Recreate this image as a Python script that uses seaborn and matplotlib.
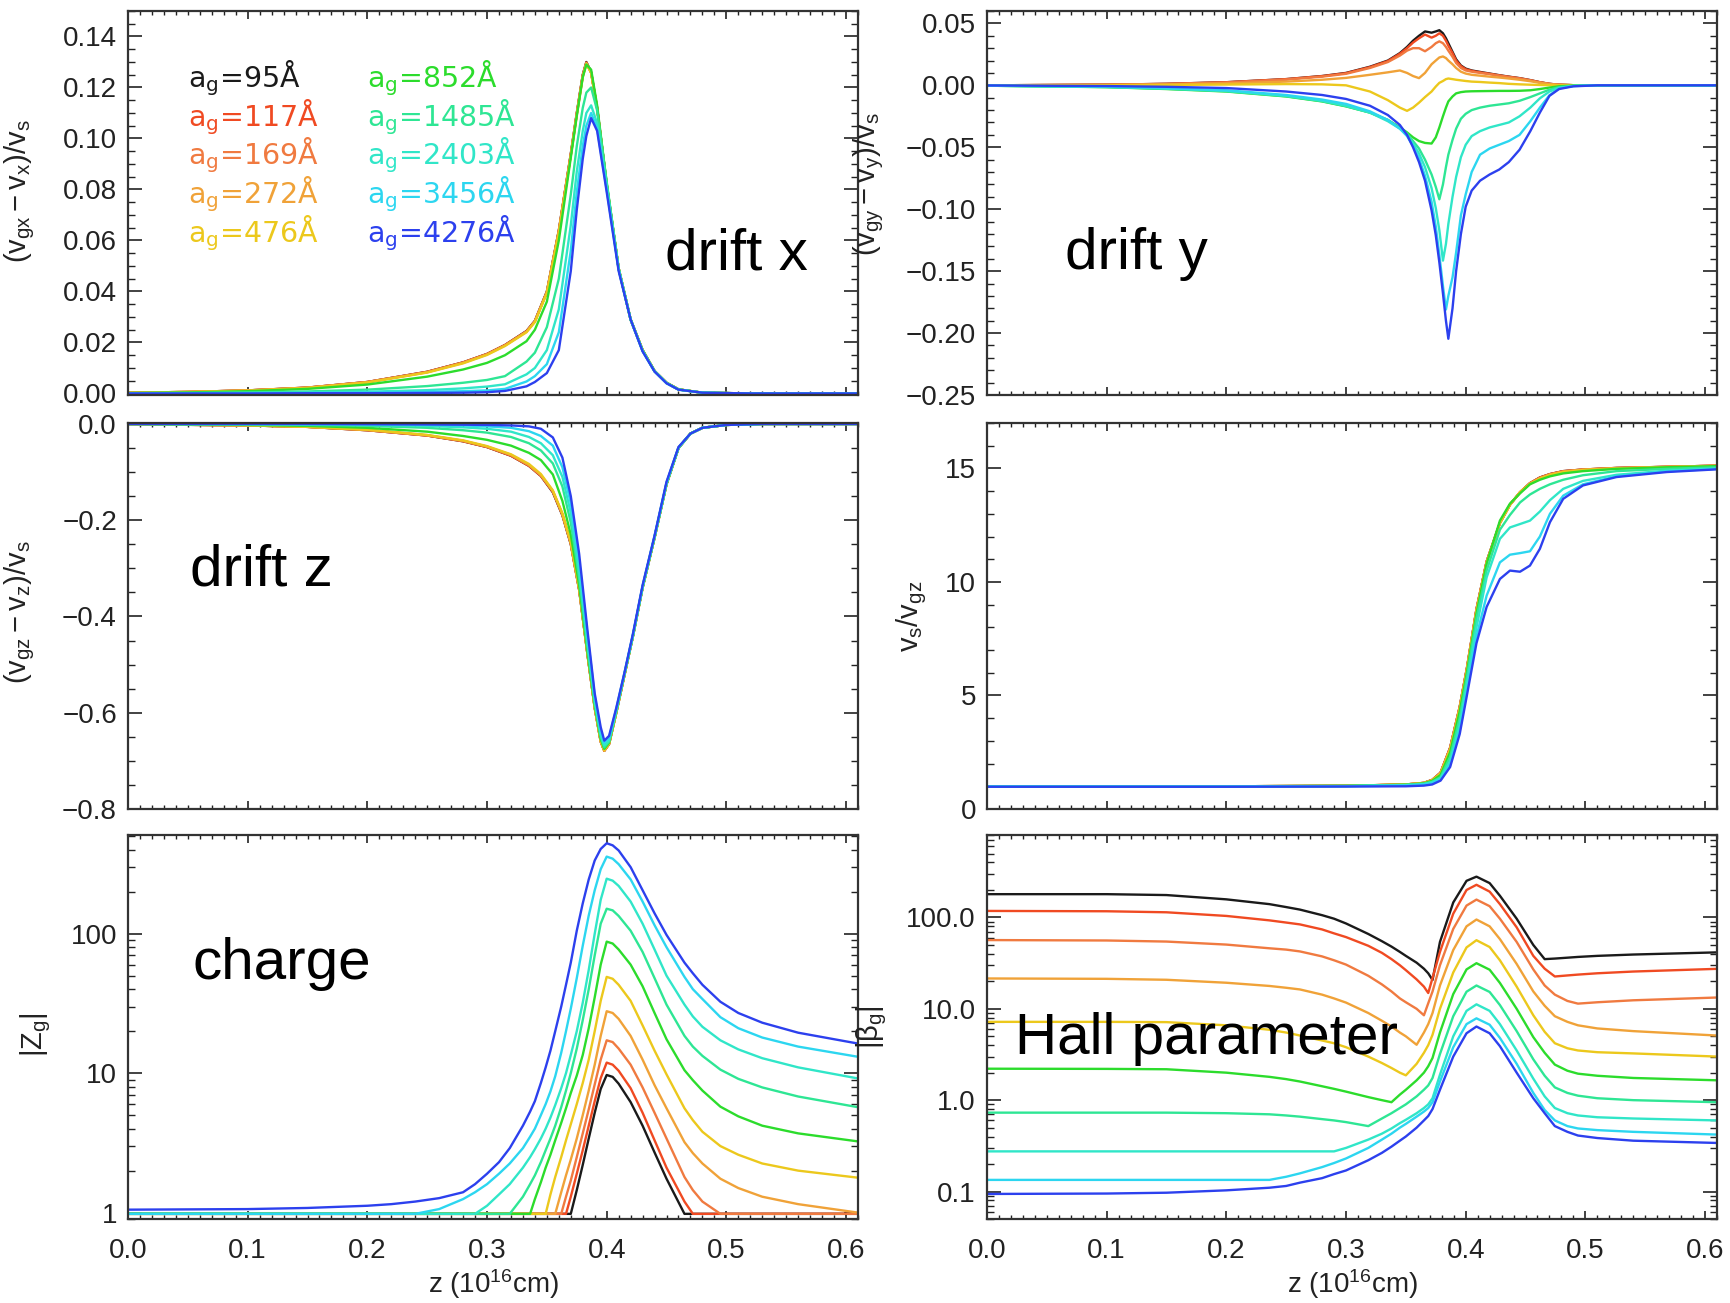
import matplotlib
matplotlib.use("Agg")
import matplotlib.pyplot as plt
import numpy as np
import pandas as pd
import seaborn as sns
from matplotlib.ticker import MultipleLocator, FixedLocator, FuncFormatter, LogLocator, NullFormatter, FixedFormatter

# ---------------- data ----------------
SIZES = ["95", "117", "169", "272", "476", "852", "1485", "2403", "3456", "4276"]
COLORS = ["#1a1a1a", "#f04a22", "#f07a40", "#f0a238", "#ecc81c",
          "#2cdc2c", "#2ee694", "#30e6c8", "#2cd6f0", "#2c40ee"]

# drift x
Z_X = [0.0, 0.05, 0.10, 0.15, 0.20, 0.25, 0.28, 0.30, 0.315, 0.333, 0.34, 0.35, 0.36, 0.37, 0.375,
       0.38, 0.383, 0.387, 0.392, 0.40, 0.41, 0.42, 0.43, 0.44, 0.45, 0.46, 0.48, 0.52, 0.61]
DX_95 = [0.0003, 0.0006, 0.0012, 0.0023, 0.0045, 0.0085, 0.0122, 0.0155, 0.0190, 0.0245, 0.0285, 0.0400, 0.0640, 0.0940, 0.1100, 0.1250, 0.1300, 0.1260, 0.1120, 0.0820, 0.0490, 0.0290, 0.0170, 0.0088, 0.0042, 0.0016, 0.0003, 0.0, 0.0]
DX_117 = [0.0003, 0.0006, 0.0012, 0.0023, 0.0045, 0.0085, 0.0122, 0.0155, 0.0190, 0.0244, 0.0284, 0.0398, 0.0638, 0.0938, 0.1098, 0.1248, 0.1298, 0.1259, 0.1120, 0.0820, 0.0490, 0.0290, 0.0170, 0.0088, 0.0042, 0.0016, 0.0003, 0.0, 0.0]
DX_169 = [0.0003, 0.0006, 0.0012, 0.0023, 0.0045, 0.0084, 0.0121, 0.0154, 0.0189, 0.0243, 0.0283, 0.0397, 0.0636, 0.0936, 0.1096, 0.1246, 0.1296, 0.1258, 0.1119, 0.0820, 0.0490, 0.0290, 0.0170, 0.0088, 0.0042, 0.0016, 0.0003, 0.0, 0.0]
DX_272 = [0.0003, 0.0006, 0.0012, 0.0022, 0.0044, 0.0083, 0.0120, 0.0153, 0.0188, 0.0242, 0.0282, 0.0396, 0.0634, 0.0934, 0.1094, 0.1244, 0.1295, 0.1258, 0.1119, 0.0820, 0.0490, 0.0290, 0.0170, 0.0088, 0.0042, 0.0016, 0.0003, 0.0, 0.0]
DX_476 = [0.0003, 0.0006, 0.0011, 0.0022, 0.0043, 0.0082, 0.0118, 0.0151, 0.0186, 0.0240, 0.0280, 0.0394, 0.0632, 0.0932, 0.1092, 0.1242, 0.1293, 0.1258, 0.1119, 0.0820, 0.0490, 0.0290, 0.0170, 0.0088, 0.0042, 0.0016, 0.0003, 0.0, 0.0]
DX_852 = [0.0002, 0.0004, 0.0009, 0.0018, 0.0035, 0.0066, 0.0094, 0.0120, 0.0150, 0.0205, 0.0250, 0.0360, 0.0600, 0.0925, 0.1088, 0.1240, 0.1290, 0.1270, 0.1130, 0.0825, 0.0490, 0.0290, 0.0170, 0.0088, 0.0042, 0.0016, 0.0003, 0.0, 0.0]
DX_1485 = [0.0001, 0.0002, 0.0004, 0.0008, 0.0015, 0.0029, 0.0042, 0.0053, 0.0068, 0.0125, 0.0160, 0.0260, 0.0450, 0.0780, 0.0970, 0.1120, 0.1180, 0.1200, 0.1110, 0.0830, 0.0490, 0.0290, 0.0168, 0.0087, 0.0041, 0.0016, 0.0003, 0.0, 0.0]
DX_2403 = [0.0, 0.0001, 0.0002, 0.0004, 0.0007, 0.0013, 0.0020, 0.0027, 0.0036, 0.0075, 0.0100, 0.0170, 0.0330, 0.0660, 0.0870, 0.1030, 0.1100, 0.1130, 0.1060, 0.0810, 0.0488, 0.0290, 0.0167, 0.0087, 0.0041, 0.0015, 0.0003, 0.0, 0.0]
DX_3456 = [0.0, 0.0, 0.0001, 0.0002, 0.0003, 0.0006, 0.0009, 0.0012, 0.0018, 0.0047, 0.0068, 0.0115, 0.0240, 0.0560, 0.0790, 0.0970, 0.1050, 0.1100, 0.1040, 0.0800, 0.0485, 0.0290, 0.0166, 0.0086, 0.0040, 0.0015, 0.0003, 0.0, 0.0]
DX_4276 = [0.0, 0.0, 0.0, 0.0001, 0.0001, 0.0002, 0.0003, 0.0005, 0.0010, 0.0028, 0.0045, 0.0080, 0.0170, 0.0480, 0.0720, 0.0920, 0.1010, 0.1080, 0.1030, 0.0790, 0.0480, 0.0290, 0.0165, 0.0086, 0.0040, 0.0015, 0.0003, 0.0, 0.0]

# drift y
Z_Y = [0.0, 0.10, 0.15, 0.20, 0.25, 0.28, 0.30, 0.32, 0.335, 0.345, 0.351, 0.356, 0.361, 0.366, 0.3715,
       0.375, 0.378, 0.381, 0.3835, 0.3855, 0.389, 0.392, 0.396, 0.40, 0.405, 0.412, 0.42, 0.428, 0.436,
       0.445, 0.454, 0.462, 0.47, 0.478, 0.49, 0.51, 0.61]
DY_95 = [0.0, 0.0005, 0.0012, 0.0025, 0.0050, 0.0075, 0.0100, 0.0150, 0.0200, 0.0260, 0.0310, 0.0360, 0.0400, 0.0435, 0.0425, 0.0435, 0.0445, 0.0420, 0.0380, 0.0340, 0.0270, 0.0210, 0.0160, 0.0135, 0.0120, 0.0108, 0.0095, 0.0082, 0.0070, 0.0058, 0.0042, 0.0025, 0.0012, 0.0005, 0.0001, 0.0, 0.0]
DY_117 = [0.0, 0.0005, 0.0012, 0.0025, 0.0050, 0.0074, 0.0098, 0.0147, 0.0196, 0.0255, 0.0300, 0.0345, 0.0380, 0.0410, 0.0385, 0.0400, 0.0420, 0.0400, 0.0360, 0.0320, 0.0260, 0.0200, 0.0155, 0.0130, 0.0117, 0.0105, 0.0093, 0.0080, 0.0069, 0.0057, 0.0041, 0.0025, 0.0012, 0.0005, 0.0001, 0.0, 0.0]
DY_169 = [0.0, 0.0005, 0.0011, 0.0023, 0.0047, 0.0070, 0.0093, 0.0140, 0.0188, 0.0240, 0.0280, 0.0300, 0.0300, 0.0275, 0.0310, 0.0340, 0.0355, 0.0340, 0.0310, 0.0280, 0.0230, 0.0180, 0.0140, 0.0120, 0.0110, 0.0100, 0.0090, 0.0078, 0.0067, 0.0055, 0.0040, 0.0024, 0.0011, 0.0004, 0.0001, 0.0, 0.0]
DY_272 = [0.0, 0.0003, 0.0007, 0.0015, 0.0030, 0.0045, 0.0060, 0.0085, 0.0105, 0.0120, 0.0100, 0.0075, 0.0058, 0.0100, 0.0170, 0.0200, 0.0225, 0.0233, 0.0220, 0.0200, 0.0170, 0.0140, 0.0110, 0.0095, 0.0085, 0.0078, 0.0070, 0.0063, 0.0055, 0.0045, 0.0033, 0.0020, 0.0010, 0.0004, 0.0001, 0.0, 0.0]
DY_476 = [0.0, 0.0001, 0.0003, 0.0006, 0.0010, 0.0008, 0.0, -0.0050, -0.0120, -0.0180, -0.0206, -0.0180, -0.0140, -0.0095, -0.0050, -0.0010, 0.0020, 0.0035, 0.0050, 0.0055, 0.0050, 0.0045, 0.0040, 0.0035, 0.0030, 0.0027, 0.0022, 0.0018, 0.0012, 0.0008, 0.0005, 0.0003, 0.0001, 0.0, 0.0, 0.0, 0.0]
DY_852 = [-0.0003, -0.0015, -0.0030, -0.0050, -0.0090, -0.0130, -0.0170, -0.0220, -0.0280, -0.0340, -0.0380, -0.0420, -0.0450, -0.0465, -0.0470, -0.0420, -0.0340, -0.0250, -0.0180, -0.0130, -0.0090, -0.0065, -0.0055, -0.0050, -0.0048, -0.0047, -0.0046, -0.0045, -0.0045, -0.0044, -0.0040, -0.0030, -0.0018, -0.0008, -0.0002, 0.0, 0.0]
DY_1485 = [-0.0003, -0.0014, -0.0028, -0.0048, -0.0088, -0.0128, -0.0168, -0.0220, -0.0280, -0.0345, -0.0390, -0.0450, -0.0510, -0.0600, -0.0720, -0.0820, -0.0920, -0.0800, -0.0660, -0.0560, -0.0440, -0.0350, -0.0270, -0.0230, -0.0200, -0.0180, -0.0165, -0.0155, -0.0145, -0.0125, -0.0095, -0.0065, -0.0035, -0.0015, -0.0004, 0.0, 0.0]
DY_2403 = [-0.0003, -0.0013, -0.0026, -0.0045, -0.0085, -0.0125, -0.0165, -0.0220, -0.0290, -0.0350, -0.0400, -0.0470, -0.0550, -0.0660, -0.0830, -0.0990, -0.1170, -0.1415, -0.1280, -0.1120, -0.0900, -0.0740, -0.0580, -0.0480, -0.0410, -0.0370, -0.0340, -0.0320, -0.0300, -0.0250, -0.0180, -0.0105, -0.0050, -0.0020, -0.0005, 0.0, 0.0]
DY_3456 = [-0.0002, -0.0011, -0.0022, -0.0040, -0.0078, -0.0115, -0.0150, -0.0210, -0.0280, -0.0350, -0.0410, -0.0490, -0.0590, -0.0730, -0.0940, -0.1140, -0.1370, -0.1620, -0.1810, -0.1700, -0.1550, -0.1350, -0.1050, -0.0880, -0.0700, -0.0560, -0.0510, -0.0480, -0.0450, -0.0400, -0.0290, -0.0180, -0.0080, -0.0025, -0.0006, 0.0, 0.0]
DY_4276 = [-0.0001, -0.0006, -0.0012, -0.0022, -0.0050, -0.0078, -0.0110, -0.0165, -0.0240, -0.0320, -0.0400, -0.0500, -0.0620, -0.0770, -0.1010, -0.1210, -0.1430, -0.1680, -0.1900, -0.2046, -0.1800, -0.1500, -0.1200, -0.0980, -0.0850, -0.0770, -0.0720, -0.0680, -0.0620, -0.0520, -0.0370, -0.0220, -0.0085, -0.0030, -0.0008, 0.0, 0.0]

# drift z
Z_Z = [0.0, 0.10, 0.15, 0.20, 0.25, 0.28, 0.30, 0.32, 0.335, 0.345, 0.355, 0.363, 0.37, 0.377, 0.384,
       0.39, 0.395, 0.398, 0.402, 0.408, 0.415, 0.422, 0.43, 0.44, 0.45, 0.46, 0.47, 0.48, 0.50, 0.53, 0.61]
DZ_95 = [-0.0005, -0.003, -0.006, -0.013, -0.024, -0.036, -0.048, -0.066, -0.087, -0.108, -0.142, -0.190, -0.250, -0.345, -0.480, -0.590, -0.660, -0.679, -0.665, -0.600, -0.520, -0.440, -0.340, -0.236, -0.125, -0.050, -0.020, -0.008, -0.002, 0.0, 0.0]
DZ_117 = [-0.0005, -0.003, -0.006, -0.013, -0.024, -0.036, -0.048, -0.066, -0.087, -0.108, -0.141, -0.189, -0.249, -0.344, -0.480, -0.590, -0.660, -0.679, -0.665, -0.600, -0.520, -0.440, -0.340, -0.236, -0.125, -0.050, -0.020, -0.008, -0.002, 0.0, 0.0]
DZ_169 = [-0.0005, -0.003, -0.006, -0.013, -0.024, -0.035, -0.047, -0.065, -0.086, -0.107, -0.140, -0.188, -0.248, -0.344, -0.479, -0.590, -0.660, -0.679, -0.665, -0.600, -0.520, -0.440, -0.340, -0.236, -0.125, -0.050, -0.020, -0.008, -0.002, 0.0, 0.0]
DZ_272 = [-0.0005, -0.003, -0.006, -0.012, -0.023, -0.035, -0.047, -0.064, -0.085, -0.106, -0.139, -0.187, -0.247, -0.343, -0.479, -0.589, -0.659, -0.679, -0.665, -0.600, -0.520, -0.440, -0.340, -0.236, -0.125, -0.050, -0.020, -0.008, -0.002, 0.0, 0.0]
DZ_476 = [-0.0005, -0.003, -0.006, -0.012, -0.023, -0.034, -0.046, -0.063, -0.083, -0.104, -0.138, -0.186, -0.246, -0.342, -0.478, -0.589, -0.659, -0.678, -0.664, -0.600, -0.520, -0.440, -0.340, -0.236, -0.125, -0.050, -0.020, -0.008, -0.002, 0.0, 0.0]
DZ_852 = [0.0, -0.002, -0.004, -0.008, -0.016, -0.025, -0.033, -0.045, -0.060, -0.075, -0.105, -0.160, -0.230, -0.335, -0.475, -0.585, -0.655, -0.675, -0.662, -0.598, -0.519, -0.440, -0.340, -0.236, -0.125, -0.050, -0.020, -0.008, -0.002, 0.0, 0.0]
DZ_1485 = [0.0, -0.001, -0.002, -0.004, -0.008, -0.013, -0.018, -0.027, -0.040, -0.055, -0.082, -0.130, -0.205, -0.320, -0.465, -0.580, -0.650, -0.672, -0.660, -0.597, -0.518, -0.439, -0.339, -0.235, -0.124, -0.050, -0.020, -0.008, -0.002, 0.0, 0.0]
DZ_2403 = [0.0, -0.0005, -0.001, -0.002, -0.004, -0.007, -0.010, -0.016, -0.027, -0.040, -0.065, -0.110, -0.185, -0.305, -0.455, -0.575, -0.645, -0.668, -0.657, -0.595, -0.517, -0.438, -0.338, -0.234, -0.123, -0.049, -0.020, -0.008, -0.002, 0.0, 0.0]
DZ_3456 = [0.0, 0.0, -0.0005, -0.001, -0.002, -0.003, -0.005, -0.008, -0.015, -0.025, -0.045, -0.090, -0.165, -0.285, -0.440, -0.565, -0.638, -0.662, -0.652, -0.592, -0.516, -0.437, -0.337, -0.233, -0.122, -0.049, -0.020, -0.008, -0.002, 0.0, 0.0]
DZ_4276 = [0.0, 0.0, 0.0, -0.0005, -0.001, -0.0015, -0.002, -0.003, -0.005, -0.010, -0.028, -0.070, -0.150, -0.270, -0.430, -0.560, -0.630, -0.658, -0.648, -0.590, -0.515, -0.435, -0.335, -0.232, -0.120, -0.048, -0.020, -0.008, -0.002, 0.0, 0.0]

# v_s / v_gz
Z_V = [0.0, 0.20, 0.30, 0.35, 0.365, 0.372, 0.379, 0.387, 0.395, 0.401, 0.409, 0.4175, 0.4286, 0.437,
       0.4454, 0.4537, 0.462, 0.4704, 0.4815, 0.498, 0.526, 0.568, 0.61]
VR_95 = [1.0, 1.0, 1.02, 1.08, 1.15, 1.28, 1.60, 2.70, 4.50, 6.20, 8.80, 10.90, 12.60, 13.40, 13.95, 14.35, 14.60, 14.75, 14.88, 14.95, 15.02, 15.07, 15.12]
VR_117 = [1.0, 1.0, 1.02, 1.08, 1.15, 1.28, 1.60, 2.70, 4.50, 6.20, 8.80, 10.90, 12.60, 13.40, 13.95, 14.35, 14.60, 14.75, 14.88, 14.95, 15.02, 15.07, 15.12]
VR_169 = [1.0, 1.0, 1.02, 1.08, 1.15, 1.28, 1.59, 2.68, 4.48, 6.18, 8.78, 10.88, 12.60, 13.40, 13.95, 14.35, 14.58, 14.74, 14.87, 14.95, 15.02, 15.07, 15.12]
VR_272 = [1.0, 1.0, 1.02, 1.08, 1.15, 1.27, 1.58, 2.66, 4.46, 6.16, 8.76, 10.87, 12.60, 13.40, 13.95, 14.33, 14.57, 14.73, 14.86, 14.94, 15.01, 15.07, 15.12]
VR_476 = [1.0, 1.0, 1.02, 1.08, 1.14, 1.26, 1.56, 2.62, 4.42, 6.12, 8.72, 10.85, 12.60, 13.40, 13.95, 14.32, 14.55, 14.71, 14.84, 14.93, 15.00, 15.06, 15.11]
VR_852 = [1.0, 1.0, 1.02, 1.07, 1.13, 1.24, 1.50, 2.50, 4.30, 6.00, 8.60, 10.80, 12.70, 13.45, 13.90, 14.30, 14.50, 14.65, 14.78, 14.88, 14.98, 15.05, 15.10]
VR_1485 = [1.0, 1.0, 1.01, 1.06, 1.11, 1.20, 1.40, 2.30, 4.00, 5.80, 8.40, 10.50, 12.30, 12.95, 13.50, 13.85, 14.10, 14.30, 14.50, 14.70, 14.88, 14.98, 15.05]
VR_2403 = [1.0, 1.0, 1.01, 1.05, 1.10, 1.18, 1.35, 2.10, 3.70, 5.50, 8.00, 10.20, 11.90, 12.40, 12.55, 12.70, 13.10, 13.60, 14.10, 14.45, 14.72, 14.90, 15.00]
VR_3456 = [0.99, 0.99, 1.0, 1.03, 1.07, 1.13, 1.30, 1.95, 3.45, 5.20, 7.60, 9.40, 10.86, 11.20, 11.27, 11.35, 12.00, 13.00, 13.80, 14.30, 14.65, 14.87, 14.98]
VR_4276 = [0.98, 0.98, 0.99, 1.0, 1.03, 1.08, 1.25, 1.85, 3.30, 5.00, 7.30, 8.90, 10.13, 10.50, 10.45, 10.72, 11.46, 12.63, 13.66, 14.25, 14.62, 14.84, 14.96]

# charge |Z_g|
Z_Q = [0.0, 0.10, 0.15, 0.20, 0.22, 0.24, 0.26, 0.28, 0.29, 0.30, 0.31, 0.319, 0.33, 0.336, 0.34, 0.345,
       0.349, 0.353, 0.357, 0.362, 0.366, 0.37, 0.375, 0.38, 0.385, 0.39, 0.395, 0.40, 0.405, 0.41, 0.42,
       0.43, 0.44, 0.45, 0.465, 0.472, 0.48, 0.495, 0.51, 0.53, 0.56, 0.61]
Q_95 = [0.98] * 22 + [1.45, 2.2, 3.4, 5.2, 7.7, 9.7, 9.4, 8.4, 6.2, 4.2, 2.7, 1.75, 0.98, 0.98, 0.98, 0.98, 0.98, 0.98, 0.98, 0.98]
Q_117 = [0.98] * 21 + [1.3, 1.9, 2.8, 4.2, 6.3, 9.2, 11.9, 11.5, 10.4, 7.8, 5.2, 3.3, 2.1, 1.2, 0.98, 0.98, 0.98, 0.98, 0.98, 0.98, 0.98]
Q_169 = [0.98] * 20 + [1.3, 1.7, 2.5, 3.7, 5.5, 8.3, 12.5, 17.2, 16.7, 15.0, 11.5, 7.9, 5.2, 3.4, 1.8, 1.45, 1.2, 0.98, 0.98, 0.98, 0.98, 0.98]
Q_272 = [0.98] * 19 + [1.4, 1.85, 2.4, 3.4, 5.0, 7.5, 11.5, 18.5, 27.8, 27.0, 24.5, 18.5, 12.5, 8.2, 5.6, 3.2, 2.67, 2.25, 1.75, 1.5, 1.3, 1.15, 1.0]
Q_476 = [0.98] * 17 + [1.35, 1.8, 2.5, 3.3, 4.3, 6.0, 8.5, 12.5, 20.0, 33.0, 49.0, 47.5, 43.0, 33.0, 22.0, 14.5, 9.8, 5.6, 4.6, 3.8, 3.0, 2.6, 2.25, 2.0, 1.78]
Q_852 = [0.98] * 14 + [1.25, 1.65, 2.1, 2.6, 3.3, 4.4, 5.6, 7.2, 9.6, 13.5, 21.0, 35.0, 60.0, 87.7, 85.0, 77.0, 60.0, 42.0, 27.0, 17.5, 10.5, 8.9, 7.5, 5.75, 4.9, 4.2, 3.7, 3.24]
Q_1485 = [0.98] * 12 + [1.3, 1.6, 1.85, 2.3, 2.8, 3.4, 4.2, 5.7, 7.5, 10.0, 15.0, 24.0, 40.0, 70.0, 118.0, 151.0, 147.0, 134.0, 105.0, 74.0, 48.0, 31.0, 18.5, 15.5, 13.3, 10.6, 9.1, 7.9, 6.8, 5.7]
Q_2403 = [0.98] * 9 + [1.12, 1.35, 1.6, 2.1, 2.5, 2.85, 3.4, 4.0, 4.8, 5.9, 7.8, 10.0, 13.5, 20.0, 32.0, 55.0, 100.0, 175.0, 248.0, 240.0, 220.0, 170.0, 118.0, 77.0, 50.0, 31.0, 25.5, 21.5, 17.2, 14.8, 12.8, 11.0, 9.16]
Q_3456 = [0.98] * 6 + [1.06, 1.25, 1.4, 1.6, 1.9, 2.25, 2.9, 3.5, 4.0, 5.0, 6.0, 7.4, 9.5, 14.0, 20.0, 29.0, 48.0, 82.0, 135.0, 205.0, 290.0, 357.0, 345.0, 315.0, 245.0, 170.0, 115.0, 80.0, 49.0, 40.0, 34.0, 25.2, 21.0, 18.0, 15.5, 13.1]
Q_4276 = [1.05, 1.06, 1.08, 1.12, 1.15, 1.2, 1.27, 1.4, 1.6, 1.9, 2.3, 2.9, 4.2, 5.3, 6.3, 8.5, 11.0, 14.5, 20.0, 30.0, 43.0, 62.0, 105.0, 165.0, 245.0, 335.0, 405.0, 445.0, 430.0, 395.0, 300.0, 205.0, 140.0, 98.0, 62.0, 52.0, 43.0, 32.5, 27.0, 23.0, 19.5, 16.3]

# Hall parameter |beta_g|
Z_H = [0.0, 0.10, 0.15, 0.20, 0.236, 0.25, 0.2615, 0.28, 0.29, 0.30, 0.3186, 0.33, 0.338, 0.345, 0.35,
       0.359, 0.3651, 0.3687, 0.3723, 0.3785, 0.3896, 0.4007, 0.409, 0.42, 0.4286, 0.4426, 0.4565, 0.466,
       0.4745, 0.485, 0.4938, 0.51, 0.54, 0.61]
H_95 = [180, 180, 176, 158, 140, 130, 122, 106, 97, 86, 66, 55, 48, 42, 38, 32, 27.5, 24.5, 20.7, 54, 146, 252, 280, 238, 173, 97, 50, 35, 35.5, 36.3, 37, 38, 39.3, 41.5]
H_117 = [118, 117, 114, 104, 93, 88, 84, 74, 67, 61, 49, 41, 35, 30, 26.5, 21, 17.5, 14.9, 21.8, 42, 110, 200, 228, 192, 140, 78, 38, 27.5, 22.6, 23.2, 23.7, 24.5, 25.6, 27.4]
H_169 = [56.6, 56, 54.5, 50.5, 46, 44.5, 42.5, 37.5, 34, 30.5, 23, 18.5, 15.5, 13, 11.8, 10, 8.5, 11.5, 15.5, 30, 75, 135, 157, 133, 97, 54, 27, 18, 14.3, 12.2, 11.4, 11.8, 12.4, 13.3]
H_272 = [21.5, 21.3, 20.8, 19.3, 17.8, 17.0, 16.3, 14.3, 13.0, 11.7, 9.0, 7.4, 6.4, 5.5, 5.0, 4.04, 5.5, 6.8, 9.0, 18, 44, 80, 95, 80, 58, 31, 15.5, 10.8, 8.3, 7.2, 6.6, 6.1, 5.7, 5.1]
H_476 = [7.2, 7.2, 7.15, 6.6, 5.9, 5.5, 5.1, 4.5, 4.2, 3.8, 3.0, 2.55, 2.25, 2.0, 1.87, 2.5, 3.3, 4.0, 5.2, 10, 25, 47, 56.4, 47.5, 34, 17.5, 8.5, 5.6, 4.2, 3.7, 3.5, 3.35, 3.25, 3.0]
H_852 = [2.21, 2.2, 2.18, 2.0, 1.8, 1.7, 1.6, 1.42, 1.33, 1.24, 1.08, 1.0, 0.95, 1.15, 1.3, 1.65, 2.0, 2.35, 2.9, 5.5, 14.5, 27, 31.6, 26.8, 19.2, 10, 4.9, 3.3, 2.45, 2.1, 1.95, 1.85, 1.75, 1.65]
H_1485 = [0.73, 0.73, 0.73, 0.72, 0.70, 0.68, 0.66, 0.62, 0.60, 0.575, 0.52, 0.63, 0.72, 0.82, 0.9, 1.1, 1.3, 1.45, 1.75, 3.2, 8.3, 15.4, 18, 15.3, 11, 5.7, 2.8, 1.85, 1.38, 1.2, 1.12, 1.05, 1.0, 0.95]
H_2403 = [0.275] * 9 + [0.30, 0.37, 0.43, 0.49, 0.56, 0.61, 0.72, 0.82, 0.9, 1.05, 1.9, 5.0, 9.5, 11.2, 9.5, 6.8, 3.5, 1.72, 1.1, 0.82, 0.72, 0.68, 0.65, 0.63, 0.60]
H_3456 = [0.134] * 5 + [0.145, 0.158, 0.185, 0.205, 0.23, 0.30, 0.37, 0.43, 0.50, 0.55, 0.66, 0.75, 0.82, 0.95, 1.6, 3.8, 6.8, 7.87, 6.7, 4.8, 2.5, 1.2, 0.78, 0.60, 0.52, 0.49, 0.47, 0.45, 0.42]
H_4276 = [0.094, 0.095, 0.097, 0.103, 0.11, 0.115, 0.125, 0.14, 0.155, 0.17, 0.22, 0.265, 0.31, 0.36, 0.40, 0.50, 0.60, 0.67, 0.80, 1.3, 3.0, 5.4, 6.4, 5.4, 3.9, 2.0, 1.05, 0.72, 0.52, 0.45, 0.41, 0.385, 0.36, 0.34]

PANELS = {
    "dx": (Z_X, [DX_95, DX_117, DX_169, DX_272, DX_476, DX_852, DX_1485, DX_2403, DX_3456, DX_4276]),
    "dy": (Z_Y, [DY_95, DY_117, DY_169, DY_272, DY_476, DY_852, DY_1485, DY_2403, DY_3456, DY_4276]),
    "dz": (Z_Z, [DZ_95, DZ_117, DZ_169, DZ_272, DZ_476, DZ_852, DZ_1485, DZ_2403, DZ_3456, DZ_4276]),
    "vr": (Z_V, [VR_95, VR_117, VR_169, VR_272, VR_476, VR_852, VR_1485, VR_2403, VR_3456, VR_4276]),
    "q": (Z_Q, [Q_95, Q_117, Q_169, Q_272, Q_476, Q_852, Q_1485, Q_2403, Q_3456, Q_4276]),
    "h": (Z_H, [H_95, H_117, H_169, H_272, H_476, H_852, H_1485, H_2403, H_3456, H_4276]),
}

# ---------------- style ----------------
sns.set_theme(style="ticks")
plt.rcParams["font.family"] = ["Liberation Sans", "DejaVu Sans"]
plt.rcParams["mathtext.fontset"] = "custom"
plt.rcParams["mathtext.rm"] = "Liberation Sans"
plt.rcParams["mathtext.it"] = "Liberation Sans:italic"
plt.rcParams["mathtext.bf"] = "Liberation Sans:bold"
plt.rcParams["axes.unicode_minus"] = True

FW, FH = 1730, 1303
fig = plt.figure(figsize=(FW / 100, FH / 100), dpi=100)


def box(x0, y0, x1, y1):
    return [x0 / FW, 1 - y1 / FH, (x1 - x0) / FW, (y1 - y0) / FH]


LX0, LX1, RX0, RX1 = 128, 858, 987, 1717
ROWS = [(11, 395), (423, 809), (835, 1219)]

palette = dict(zip(SIZES, COLORS))


def draw(ax, key):
    z, series = PANELS[key]
    frames = []
    for s, vals in zip(SIZES, series):
        assert len(vals) == len(z), (key, s, len(vals), len(z))
        frames.append(pd.DataFrame({"z": z, "v": vals, "a": s}))
    df = pd.concat(frames, ignore_index=True)
    sns.lineplot(data=df, x="z", y="v", hue="a", hue_order=SIZES, palette=palette,
                 estimator=None, sort=False, legend=False, linewidth=1.7, ax=ax)
    ax.set_xlabel("")
    ax.set_ylabel("")


def minus_fmt(fmt):
    def f(x, pos):
        if abs(x) < 1e-9:
            x = 0.0
        return (fmt % x).replace("-", "\u2212")
    return FuncFormatter(f)


def style(ax, show_x):
    ax.set_xlim(0, 0.61)
    ax.xaxis.set_major_locator(MultipleLocator(0.1))
    ax.xaxis.set_minor_locator(MultipleLocator(0.01))
    ax.tick_params(which="both", direction="in", top=True, right=True,
                   colors="#222222", labelsize=20, labelcolor="#222222")
    ax.tick_params(axis="y", which="major", length=10, width=1.2, pad=8)
    ax.tick_params(axis="y", which="minor", length=5, width=1.0)
    ax.tick_params(axis="x", which="major", length=6, width=1.2, pad=14)
    ax.tick_params(axis="x", which="minor", length=3, width=1.0)
    for s in ax.spines.values():
        s.set_linewidth(1.6)
        s.set_color("#333333")
    if show_x:
        ax.xaxis.set_major_formatter(minus_fmt("%.1f"))
        ax.set_xlabel(r"z (10$^{\mathregular{16}}$cm)", fontsize=20, color="#222222")
        ax.xaxis.set_label_coords(0.5, -0.125)
    else:
        ax.tick_params(axis="x", labelbottom=False)


YL = dict(fontsize=21, color="#222222")

# drift x
ax1 = fig.add_axes(box(LX0, ROWS[0][0], LX1, ROWS[0][1]))
draw(ax1, "dx")
style(ax1, False)
ax1.set_ylim(-0.0006, 0.15)
ax1.yaxis.set_major_locator(FixedLocator([0, 0.02, 0.04, 0.06, 0.08, 0.10, 0.12, 0.14]))
ax1.yaxis.set_minor_locator(MultipleLocator(0.005))
ax1.yaxis.set_major_formatter(minus_fmt("%.2f"))
ax1.set_ylabel(r"$\mathregular{(v_{gx}-v_x)/v_s}$", **YL)
ax1.yaxis.set_label_coords(-0.124, 0.53)
ax1.text(0.736, 0.328, "drift x", transform=ax1.transAxes, fontsize=42, color="black")
LEG_X = [0.082, 0.327]
LEG_Y = [0.80, 0.70, 0.599, 0.498, 0.398]
for i, (s, c) in enumerate(zip(SIZES, COLORS)):
    ax1.text(LEG_X[i // 5], LEG_Y[i % 5], r"a$_{\mathregular{g}}$=" + s + "Å",
             transform=ax1.transAxes, fontsize=20.5, color=c, family=["DejaVu Sans"],
             va="baseline")

# drift y
ax2 = fig.add_axes(box(RX0, ROWS[0][0], RX1, ROWS[0][1]))
draw(ax2, "dy")
style(ax2, False)
ax2.set_ylim(-0.25, 0.06)
ax2.yaxis.set_major_locator(FixedLocator([-0.25, -0.20, -0.15, -0.10, -0.05, 0.0, 0.05]))
ax2.yaxis.set_minor_locator(MultipleLocator(0.01))
ax2.yaxis.set_major_formatter(minus_fmt("%.2f"))
ax2.set_ylabel(r"$\mathregular{(v_{gy}-v_y)/v_s}$", **YL)
ax2.yaxis.set_label_coords(-0.139, 0.55)
ax2.text(0.107, 0.328, "drift y", transform=ax2.transAxes, fontsize=42, color="black")

# drift z
ax3 = fig.add_axes(box(LX0, ROWS[1][0], LX1, ROWS[1][1]))
draw(ax3, "dz")
style(ax3, False)
ax3.set_ylim(-0.8, 0.002)
ax3.yaxis.set_major_locator(FixedLocator([-0.8, -0.6, -0.4, -0.2, 0.0]))
ax3.yaxis.set_minor_locator(MultipleLocator(0.05))
ax3.yaxis.set_major_formatter(minus_fmt("%.1f"))
ax3.set_ylabel(r"$\mathregular{(v_{gz}-v_z)/v_s}$", **YL)
ax3.yaxis.set_label_coords(-0.124, 0.51)
ax3.text(0.085, 0.58, "drift z", transform=ax3.transAxes, fontsize=42, color="black")

# v_s / v_gz
ax4 = fig.add_axes(box(RX0, ROWS[1][0], RX1, ROWS[1][1]))
draw(ax4, "vr")
style(ax4, False)
ax4.set_ylim(0, 17)
ax4.yaxis.set_major_locator(FixedLocator([0, 5, 10, 15]))
ax4.yaxis.set_minor_locator(MultipleLocator(1))
ax4.yaxis.set_major_formatter(minus_fmt("%d"))
ax4.set_ylabel(r"$\mathregular{v_s/v_{gz}}$", **YL)
ax4.yaxis.set_label_coords(-0.079, 0.50)

# charge
ax5 = fig.add_axes(box(LX0, ROWS[2][0], LX1, ROWS[2][1]))
draw(ax5, "q")
ax5.set_yscale("log")
style(ax5, True)
ax5.set_ylim(0.9, 510)
ax5.yaxis.set_major_locator(FixedLocator([1, 10, 100]))
ax5.yaxis.set_major_formatter(FixedFormatter(["1", "10", "100"]))
ax5.yaxis.set_minor_locator(LogLocator(base=10, subs=(2, 3, 4, 5, 6, 7, 8, 9), numticks=20))
ax5.yaxis.set_minor_formatter(NullFormatter())
ax5.set_ylabel(r"$\mathregular{|Z_g|}$", **YL)
ax5.yaxis.set_label_coords(-0.103, 0.48)
ax5.text(0.088, 0.625, "charge", transform=ax5.transAxes, fontsize=42, color="black")

# Hall parameter
ax6 = fig.add_axes(box(RX0, ROWS[2][0], RX1, ROWS[2][1]))
draw(ax6, "h")
ax6.set_yscale("log")
style(ax6, True)
ax6.set_ylim(0.05, 800)
ax6.yaxis.set_major_locator(FixedLocator([0.1, 1, 10, 100]))
ax6.yaxis.set_major_formatter(FixedFormatter(["0.1", "1.0", "10.0", "100.0"]))
ax6.yaxis.set_minor_locator(LogLocator(base=10, subs=(2, 3, 4, 5, 6, 7, 8, 9), numticks=20))
ax6.yaxis.set_minor_formatter(NullFormatter())
ax6.set_ylabel(r"$\mathregular{|\beta_g|}$", **YL)
ax6.yaxis.set_label_coords(-0.134, 0.50)
ax6.text(0.038, 0.43, "Hall parameter", transform=ax6.transAxes, fontsize=42, color="black",
         zorder=10)

fig.savefig("out.png", dpi=100)
